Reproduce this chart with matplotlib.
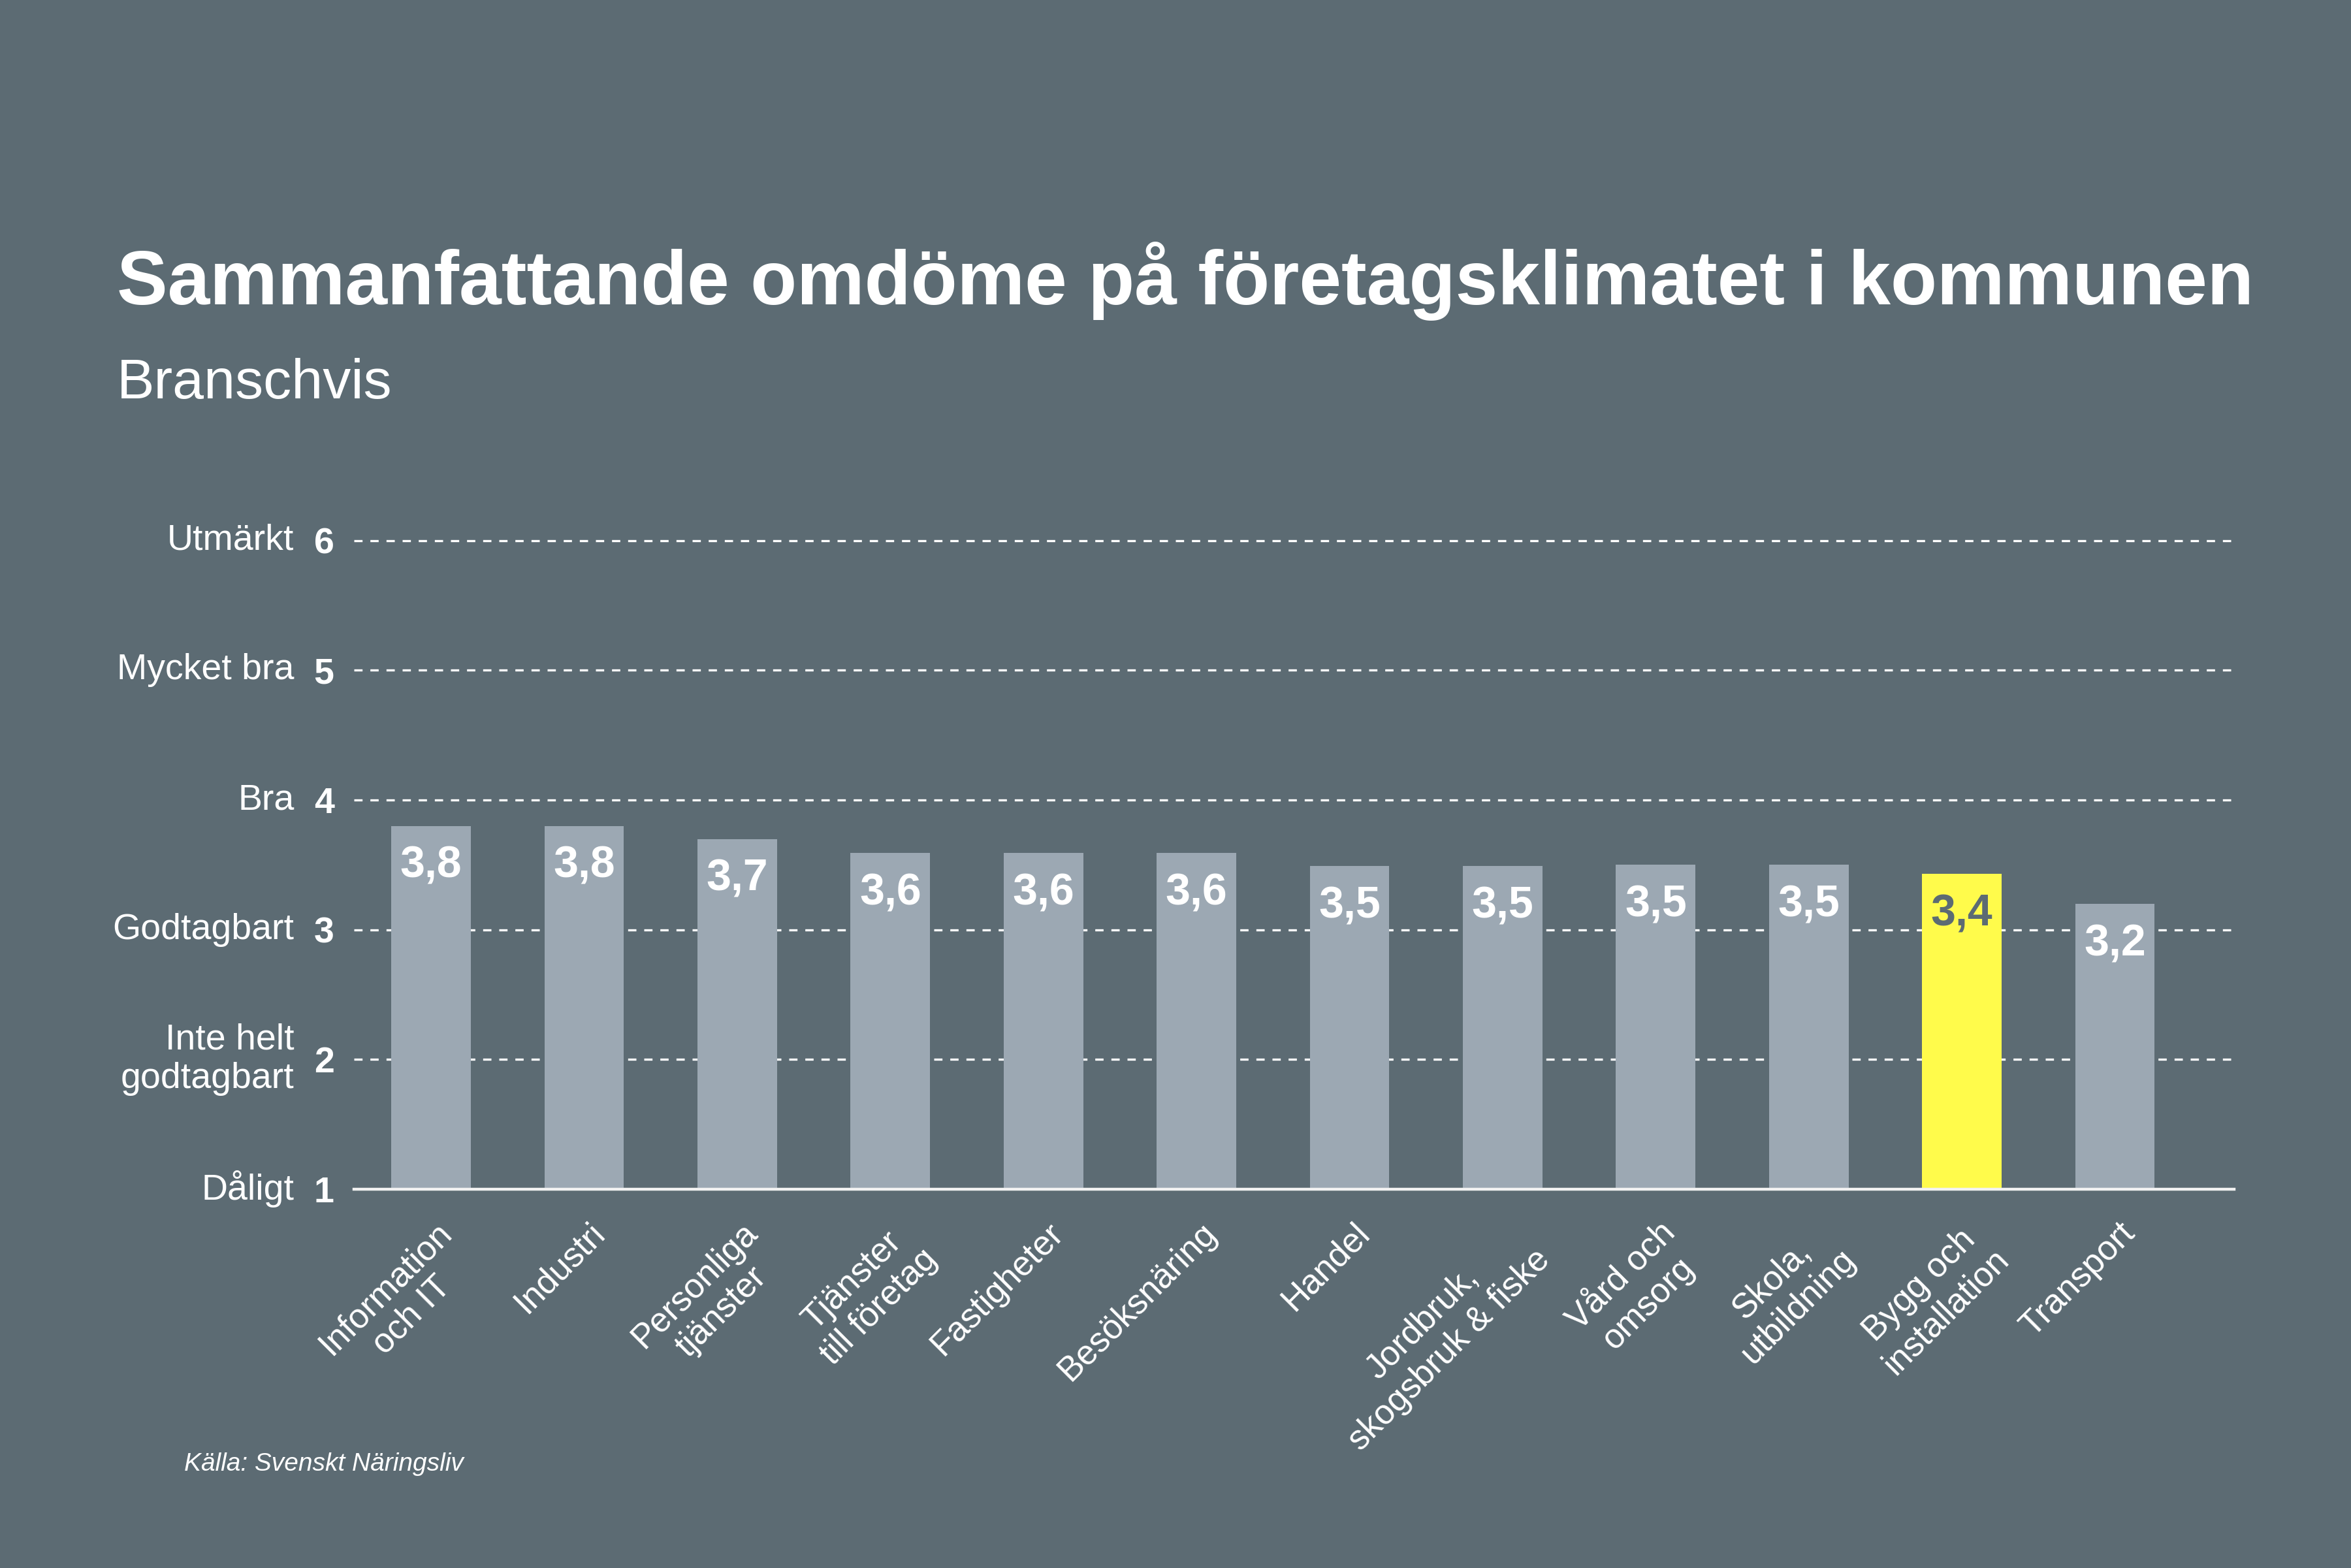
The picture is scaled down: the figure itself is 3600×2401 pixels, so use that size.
import matplotlib
matplotlib.use("Agg")
import matplotlib.pyplot as plt
from matplotlib.transforms import ScaledTranslation

# data
branscher = ["Information\noch IT", "Industri", "Personliga\ntjänster", "Tjänster\ntill företag",
             "Fastigheter", "Besöksnäring", "Handel", "Jordbruk,\nskogsbruk & fiske",
             "Vård och\nomsorg", "Skola,\nutbildning", "Bygg och\ninstallation", "Transport"]
omdome = [3.80, 3.80, 3.70, 3.59, 3.59, 3.59, 3.49, 3.49, 3.50, 3.50, 3.43, 3.20]
markerad = "Bygg och\ninstallation"
skala = [1, 2, 3, 4, 5, 6]
skala_text = ["Dåligt", "Inte helt\ngodtagbart", "Godtagbart", "Bra", "Mycket bra", "Utmärkt"]

bg = "#5c6b73"
bar_col = "#9ca8b3"
gul = "#fffb4b"
font = "Liberation Sans"

plt.rcParams["font.family"] = [font, "DejaVu Sans"]

fig = plt.figure(figsize=(18, 12.005), dpi=200, facecolor=bg)
ax = fig.add_axes([0.1506, 0.2416, 0.7997, 0.4219])
ax.set_facecolor(bg)

x = list(range(len(branscher)))
farger = [gul if b == markerad else bar_col for b in branscher]
ax.bar(x, [v - 1 for v in omdome], bottom=1, width=0.52, color=farger, zorder=3)

for i, v in enumerate(omdome):
    txt = f"{v:.1f}".replace(".", ",")
    c = bg if branscher[i] == markerad else "white"
    ax.annotate(txt, xy=(i, v), xytext=(0, -10.5), textcoords="offset points",
                ha="center", va="top", fontsize=24.5, fontweight="bold", color=c, zorder=4)

ax.set_xlim(-0.503, 11.779)
ax.set_ylim(1, 6.1)

ax.set_yticks(skala)
ax.set_yticklabels([str(s) for s in skala], fontsize=20, fontweight="bold", color="white")
ax.tick_params(axis="y", length=0, pad=11)
for s, t in zip(skala, skala_text):
    ax.annotate(t, xy=(0, s), xycoords=("axes fraction", "data"), xytext=(-33, 0),
                textcoords="offset points", ha="right", va="center", fontsize=20,
                color="white", multialignment="right")

ax.set_xticks(x)
ax.set_xticklabels(branscher, rotation=45, ha="right", va="top", rotation_mode="anchor",
                   fontsize=19, color="white", multialignment="center")
ax.tick_params(axis="x", length=0, pad=15)
for lbl in ax.get_xticklabels():
    lbl.set_transform(lbl.get_transform() + ScaledTranslation(2 / 72, 0, fig.dpi_scale_trans))

ax.yaxis.grid(True, color="white", linewidth=1.2, linestyle=(0, (3.8, 3.6)))
ax.set_axisbelow(True)
for side in ["left", "right", "top"]:
    ax.spines[side].set_visible(False)
ax.spines["bottom"].set_color("#f2f2f2")
ax.spines["bottom"].set_linewidth(1.6)
ax.spines["bottom"].set_zorder(5)

title = fig.text(0.0497, 0.806, "Sammanfattande omdöme på företagsklimatet i kommunen",
                 fontsize=48, fontweight="bold", color="white", va="baseline", ha="left")
fig.text(0.0497, 0.746, "Branschvis", fontsize=31, color="white", va="baseline", ha="left")
fig.text(0.0783, 0.062, "Källa: Svenskt Näringsliv", fontsize=14, style="italic",
         color="white", va="baseline", ha="left")

# fit title to the width it has in the original
r = fig.canvas.get_renderer()
w = title.get_window_extent(r).width
title.set_fontsize(48 * 3272 / w)

fig.savefig("out.png", dpi=200, facecolor=bg)
